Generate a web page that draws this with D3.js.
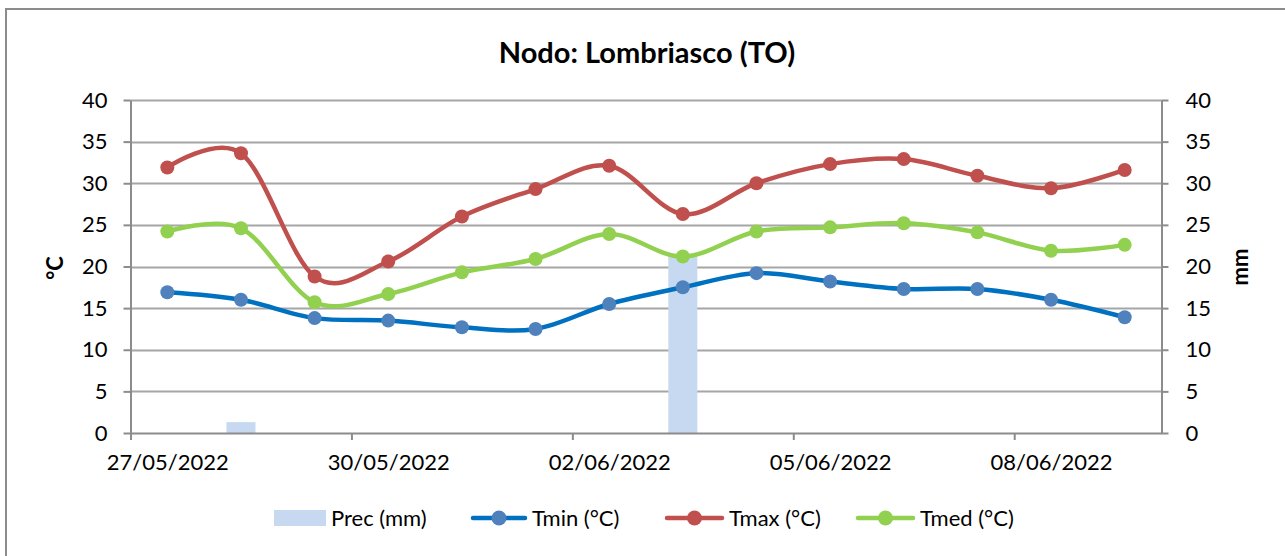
<!DOCTYPE html>
<html><head><meta charset="utf-8">
<script src="https://cdn.jsdelivr.net/npm/d3@7"></script>
<style>
html,body{margin:0;padding:0;background:#fff;}
svg{display:block;font-family:Lato, "Open Sans", sans-serif;}
</style></head>
<body>
<svg id="c" width="1285" height="556"></svg>
<script>
const dates = ["27/05/2022","28/05/2022","29/05/2022","30/05/2022","31/05/2022","01/06/2022","02/06/2022","03/06/2022","04/06/2022","05/06/2022","06/06/2022","07/06/2022","08/06/2022","09/06/2022"];
const prec = [0, 1.3, 0, 0, 0, 0, 0, 21.3, 0, 0, 0, 0, 0, 0];
const tmin = [16.9, 16.0, 13.8, 13.5, 12.7, 12.5, 15.5, 17.5, 19.2, 18.2, 17.3, 17.3, 16.0, 13.9];
const tmax = [31.9, 33.6, 18.8, 20.6, 26.0, 29.3, 32.1, 26.3, 30.0, 32.3, 32.9, 30.9, 29.4, 31.6];
const tmed = [24.2, 24.6, 15.7, 16.7, 19.3, 20.9, 23.9, 21.2, 24.2, 24.7, 25.2, 24.1, 21.9, 22.6];
const yTicks = [0,5,10,15,20,25,30,35,40];
const title = "Nodo: Lombriasco (TO)";
const leftTitle = "°C", rightTitle = "mm";
const seriesNames = ["Prec (mm)","Tmin (°C)","Tmax (°C)","Tmed (°C)"];

const parse = d3.timeParse("%d/%m/%Y");
const fmt = d3.timeFormat("%d/%m/%Y");
const days = dates.map(parse);
const endDay = d3.timeDay.offset(days[days.length-1], 1);
const tickDates = days.filter((d,i)=> i%3===0);

const svg = d3.select("#c");
const L=130.5, R=1161.5, T=100, B=433;
const x = d3.scaleTime().domain([days[0], endDay]).range([L,R]);
const yL = d3.scaleLinear().domain([0,40]).range([B,T]);
const yR = d3.scaleLinear().domain([0,40]).range([B,T]);
const mid = d => d3.timeHour.offset(d, 12);
const dayW = x(d3.timeDay.offset(days[0],1)) - x(days[0]);

// outer border
svg.append("rect").attr("x",6).attr("y",9).attr("width",1300).attr("height",600)
  .attr("fill","none").attr("stroke","#8c8c8c").attr("stroke-width",2);

// title
svg.append("text").attr("x",647).attr("y",63).attr("text-anchor","middle")
  .attr("font-size",29).attr("font-weight","bold").attr("fill","#000").text(title);

// gridlines
svg.append("g").selectAll("line").data(yTicks.filter(v=>v>0)).join("line")
  .attr("x1",L).attr("x2",R).attr("y1",d=>Math.round(yL(d))+0.5).attr("y2",d=>Math.round(yL(d))+0.5)
  .attr("stroke","#a6a6a6").attr("stroke-width",2);

// bars
const bw = 29;
svg.append("g").selectAll("rect").data(prec.map((v,i)=>({v,d:days[i]})).filter(o=>o.v>0)).join("rect")
  .attr("x",o=>x(mid(o.d))-bw/2).attr("width",bw)
  .attr("y",o=>yR(o.v)).attr("height",o=>B-yR(o.v))
  .attr("fill","#c6d9f1");

// axes
const axStyle = g => {
  g.selectAll("path,line").attr("stroke","#8c8c8c").attr("stroke-width",2);
  g.selectAll("text").attr("font-size",22).attr("fill","#000").attr("font-family","Lato, sans-serif");
};
svg.append("g").attr("transform",`translate(${L},0)`)
  .call(d3.axisLeft(yL).tickValues(yTicks).tickSize(7).tickPadding(16).tickSizeOuter(0))
  .call(axStyle);
svg.append("g").attr("transform",`translate(${R},0)`)
  .call(d3.axisRight(yR).tickValues(yTicks).tickSize(7).tickPadding(17).tickSizeOuter(0))
  .call(axStyle);
const xg = svg.append("g").attr("transform",`translate(0,${B})`)
  .call(d3.axisBottom(x).tickValues(tickDates).tickFormat(fmt).tickSize(7).tickPadding(14).tickSizeOuter(0))
  .call(axStyle);
xg.selectAll(".tick text").attr("dx", dayW/2);

// axis titles
svg.append("text").attr("transform","translate(63,268) rotate(-90)").attr("text-anchor","middle")
  .attr("font-size",22).attr("font-weight","bold").text(leftTitle);
svg.append("text").attr("transform","translate(1248,267) rotate(-90)").attr("text-anchor","middle")
  .attr("font-size",22).attr("font-weight","bold").text(rightTitle);

// lines
const series = [
  {vals:tmin, line:"#0070c0", mark:"#4f81bd"},
  {vals:tmax, line:"#c0504d", mark:"#c0504d"},
  {vals:tmed, line:"#92d050", mark:"#92d050"}
];
const lineGen = d3.line().x(d=>x(mid(d.d))).y(d=>yL(d.v)).curve(d3.curveCardinal.tension(0));
series.forEach(s=>{
  const pts = s.vals.map((v,i)=>({v,d:days[i]}));
  svg.append("path").datum(pts).attr("d",lineGen).attr("fill","none")
    .attr("stroke",s.line).attr("stroke-width",4.5).attr("stroke-linejoin","round");
  svg.append("g").selectAll("circle").data(pts).join("circle")
    .attr("cx",d=>x(mid(d.d))).attr("cy",d=>yL(d.v)).attr("r",7).attr("fill",s.mark);
});

// legend
const lg = svg.append("g").attr("font-size",22);
lg.append("rect").attr("x",274).attr("y",510).attr("width",52).attr("height",16).attr("fill","#c6d9f1");
lg.append("text").attr("x",331).attr("y",526).text(seriesNames[0]);
const legItems = [
  {x1:473,x2:525,tx:532,s:series[0],n:seriesNames[1]},
  {x1:667,x2:722,tx:729,s:series[1],n:seriesNames[2]},
  {x1:858,x2:913,tx:920,s:series[2],n:seriesNames[3]}
];
legItems.forEach(it=>{
  lg.append("line").attr("x1",it.x1).attr("x2",it.x2).attr("y1",518).attr("y2",518)
    .attr("stroke",it.s.line).attr("stroke-width",4.5).attr("stroke-linecap","round");
  lg.append("circle").attr("cx",(it.x1+it.x2)/2).attr("cy",518).attr("r",7.5).attr("fill",it.s.mark);
  lg.append("text").attr("x",it.tx).attr("y",526).text(it.n);
});
</script>
</body></html>
